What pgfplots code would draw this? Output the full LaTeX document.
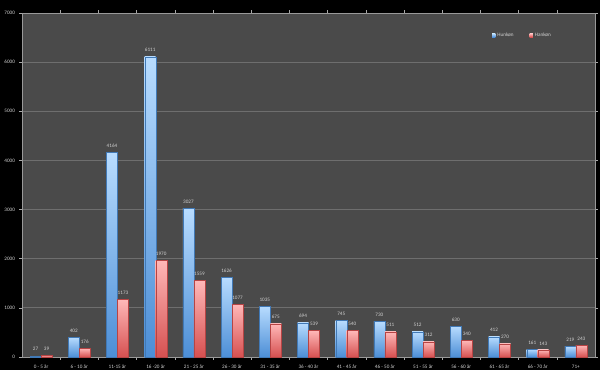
\documentclass[border=0pt]{standalone}
\usepackage{pgfplots}
\pgfplotsset{compat=1.18}
\usepackage{fontspec}
\setmainfont{Carlito}
\definecolor{plotbg}{HTML}{4A4A4A}
\definecolor{gridc}{HTML}{6E6E6E}
\definecolor{txt}{HTML}{D0D0D0}
\definecolor{bluetop}{HTML}{B8DCFF}
\definecolor{bluebot}{HTML}{4C8ED6}
\definecolor{redtop}{HTML}{FFB8B8}
\definecolor{redbot}{HTML}{D65050}
\newcommand{\chartfont}{\fontsize{5.2}{6}\selectfont}
\pgfplotsset{
  hb/.style={draw=bluebot!85!black, line width=0.2pt, top color=bluetop, bottom color=bluebot, bar shift=-5.5bp},
  hr/.style={draw=redbot!85!black, line width=0.2pt, top color=redtop, bottom color=redbot, bar shift=5.5bp},
}
\begin{document}
\begin{tikzpicture}
\fill[black] (0,0) rectangle (600bp,370bp);
\begin{axis}[
  at={(22bp,13bp)}, anchor=south west,
  scale only axis, width=573bp, height=344bp,
  xmin=-0.5, xmax=14.5, ymin=0, ymax=7000,
  ytick={0,1000,...,7000},
  xtick={0,...,14},
  xticklabels={0 - 5 år,6 - 10 år,11-15 år,16 -20 år,21 - 25 år,26 - 30 år,31 - 35 år,36 - 40 år,41 - 45 år,46 - 50 år,51 - 55 år,56 - 60 år,61 - 65 år,66 - 70 år,71+},
  minor xtick={0.5,1.5,...,13.5},
  major x tick style={draw=none},
  minor x tick style={draw=gridc!60!white, line width=0.5pt},
  minor tick length=2.5bp,
  y tick style={draw=gridc!60!white, line width=0.5pt},
  major tick length=2.5bp,
  tick align=outside,
  axis background/.style={fill=plotbg},
  axis line style={draw=gridc!70!white, line width=0.8pt},
  ymajorgrids, major grid style={draw=gridc, line width=0.9pt},
  /pgf/number format/assume math mode=true,
  /pgf/number format/1000 sep={},
  ticklabel style={font=\chartfont, color=txt},
  yticklabel style={xshift=-1bp},
  xticklabel style={yshift=-2bp},
  ybar, bar width=11bp,
  nodes near coords,
  nodes near coords style={font=\chartfont, color=txt, yshift=1.5bp},
  legend style={at={(0.815,0.935)}, anchor=west, draw=none, fill=none,
    font=\chartfont, text=txt, legend columns=2,
    /tikz/every even column/.append style={column sep=14bp}},
  legend image code/.code={\draw[#1, draw=none] (0bp,-1.7bp) rectangle (3.2bp,1.7bp);},
  clip=false,
]
\addplot[hb] coordinates {(0,27)};
\addplot[hr] coordinates {(0,39)};
\legend{Hunkøn,Hankøn}
\addplot[hb, forget plot] coordinates {(1,402)};
\addplot[hb, forget plot] coordinates {(2,4164)};
\addplot[hb, forget plot] coordinates {(3,6111)};
\addplot[hb, forget plot] coordinates {(4,3027)};
\addplot[hb, forget plot] coordinates {(5,1626)};
\addplot[hb, forget plot] coordinates {(6,1035)};
\addplot[hb, forget plot] coordinates {(7,694)};
\addplot[hb, forget plot] coordinates {(8,745)};
\addplot[hb, forget plot] coordinates {(9,730)};
\addplot[hb, forget plot] coordinates {(10,512)};
\addplot[hb, forget plot] coordinates {(11,630)};
\addplot[hb, forget plot] coordinates {(12,412)};
\addplot[hb, forget plot] coordinates {(13,161)};
\addplot[hb, forget plot] coordinates {(14,219)};
\addplot[hr, forget plot] coordinates {(1,176)};
\addplot[hr, forget plot] coordinates {(2,1173)};
\addplot[hr, forget plot] coordinates {(3,1970)};
\addplot[hr, forget plot] coordinates {(4,1559)};
\addplot[hr, forget plot] coordinates {(5,1077)};
\addplot[hr, forget plot] coordinates {(6,675)};
\addplot[hr, forget plot] coordinates {(7,539)};
\addplot[hr, forget plot] coordinates {(8,540)};
\addplot[hr, forget plot] coordinates {(9,511)};
\addplot[hr, forget plot] coordinates {(10,312)};
\addplot[hr, forget plot] coordinates {(11,340)};
\addplot[hr, forget plot] coordinates {(12,270)};
\addplot[hr, forget plot] coordinates {(13,143)};
\addplot[hr, forget plot] coordinates {(14,243)};
\end{axis}
\end{tikzpicture}
\end{document}
